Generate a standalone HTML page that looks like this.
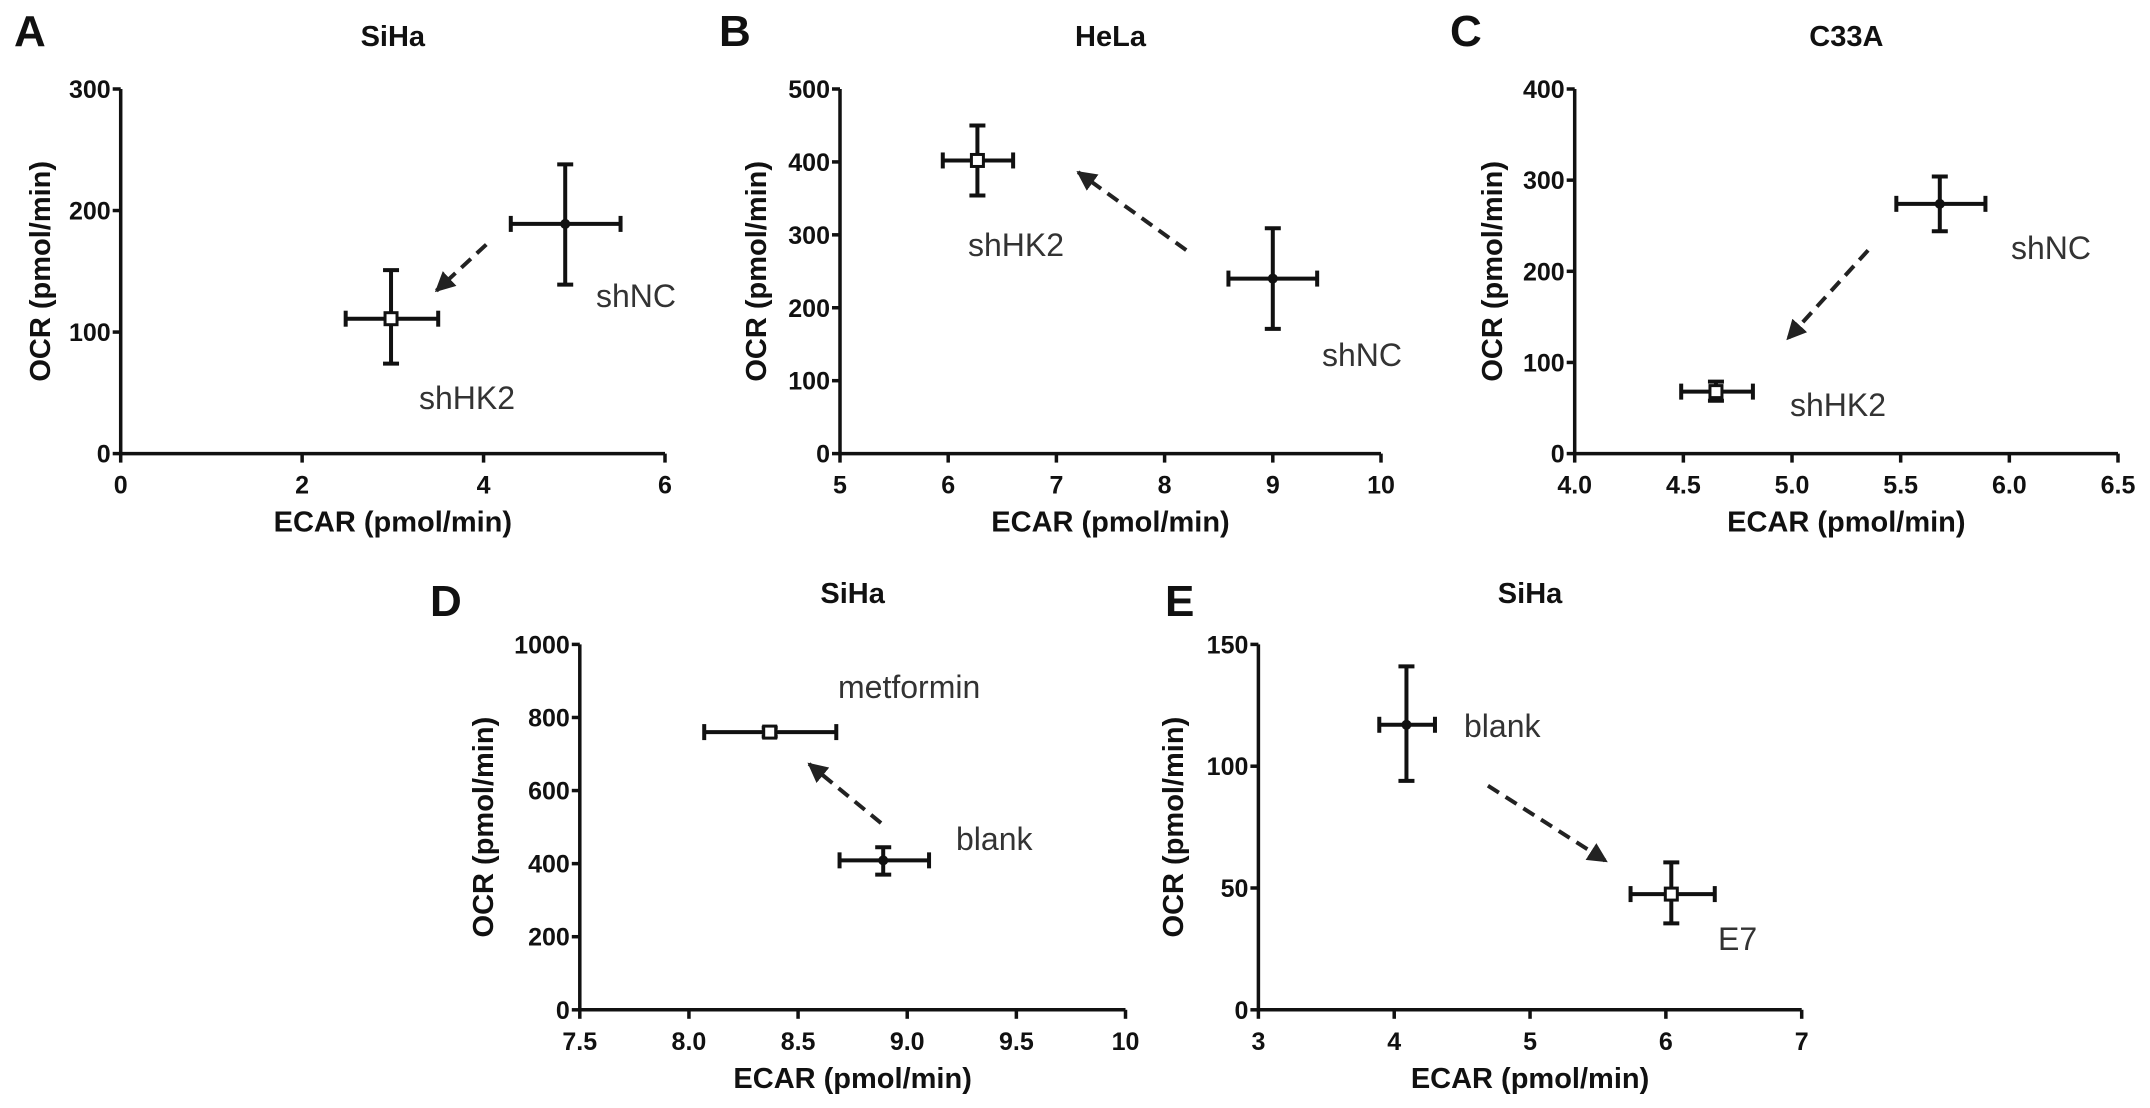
<!DOCTYPE html>
<html><head><meta charset="utf-8">
<style>
html,body{margin:0;padding:0;background:#fff;}
svg{display:block;font-family:"Liberation Sans",Arial,sans-serif;}
.tick{font-weight:bold;font-size:25px;fill:#111;}
.ttl{font-weight:bold;font-size:29px;fill:#111;}
.let{font-weight:bold;font-size:44px;fill:#111;}
.lab{font-size:32px;fill:#333;}
</style></head>
<body>
<svg id="fig" width="2150" height="1108" viewBox="0 0 2150 1108" xmlns="http://www.w3.org/2000/svg"></svg>
<script>
// ---- data ----
const panelIds = ["A","B","C","D","E"];
const panelTitles = ["SiHa","HeLa","C33A","SiHa","SiHa"];
const xTicksA = [0,2,4,6];
const yTicksA = [0,100,200,300];
const xTicksB = [5,6,7,8,9,10];
const yTicksB = [0,100,200,300,400,500];
const xTicksC = [4.0,4.5,5.0,5.5,6.0,6.5];
const yTicksC = [0,100,200,300,400];
const xTicksD = [7.5,8.0,8.5,9.0,9.5,10];
const yTicksD = [0,200,400,600,800,1000];
const xTicksE = [3,4,5,6,7];
const yTicksE = [0,50,100,150];
const xTickLabelsC = ["4.0","4.5","5.0","5.5","6.0","6.5"];
const xTickLabelsD = ["7.5","8.0","8.5","9.0","9.5","10"];
// series: [name, marker, ecar, ecarLo, ecarHi, ocr, ocrLo, ocrHi]
const seriesNames = [["shNC","shHK2"],["shNC","shHK2"],["shNC","shHK2"],["blank","metformin"],["blank","E7"]];
const markerKind = [["dot","sq"],["dot","sq"],["dot","sq"],["dot","sq"],["dot","sq"]];
const ecarMean = [[4.90,2.98],[9.0,6.27],[5.68,4.65],[8.89,8.37],[4.09,6.04]];
const ecarLo = [[4.30,2.48],[8.59,5.95],[5.48,4.49],[8.69,8.07],[3.89,5.74]];
const ecarHi = [[5.51,3.50],[9.41,6.60],[5.89,4.82],[9.10,8.675],[4.30,6.36]];
const ocrMean = [[189,111],[240,402],[274,68],[409,760],[117,47.5]];
const ocrLo = [[139,74],[171,354],[244,58],[370,748],[94,35.5]];
const ocrHi = [[238,151],[309,450],[304,79],[445,772],[141,60.5]];
// arrows in data units: [x1,y1,x2,y2]
const arrowFrom = [[4.03,172],[8.2,279],[5.35,223],[8.88,511],[4.69,92]];
const arrowTo = [[3.48,134],[7.2,386],[4.98,126],[8.55,673],[5.56,61]];

// ---- layout ----
const layout = [
 {xp0:120.7,xp1:665,yp0:453.6,yp1:89,xd:[0,6],yd:[0,300],xt:xTicksA,yt:yTicksA,letX:14,letY:46,ttlY:46,ytx:40,
  labs:[[596,307],[419,409]]},
 {xp0:840,xp1:1381,yp0:453.6,yp1:89,xd:[5,10],yd:[0,500],xt:xTicksB,yt:yTicksB,letX:719,letY:46,ttlY:46,ytx:756,
  labs:[[1322,366],[968,256]]},
 {xp0:1574.7,xp1:2118,yp0:453.6,yp1:89,xd:[4,6.5],yd:[0,400],xt:xTicksC,yt:yTicksC,xl:xTickLabelsC,letX:1450,letY:46,ttlY:46,ytx:1492,
  labs:[[2011,259],[1790,416]]},
 {xp0:579.8,xp1:1125.5,yp0:1009.8,yp1:644.4,xd:[7.5,10],yd:[0,1000],xt:xTicksD,yt:yTicksD,xl:xTickLabelsD,letX:430,letY:616,ttlY:603,ytx:483,
  labs:[[956,850],[838,698]]},
 {xp0:1258.4,xp1:1801.7,yp0:1009.8,yp1:644.4,xd:[3,7],yd:[0,150],xt:xTicksE,yt:yTicksE,letX:1165,letY:616,ttlY:603,ytx:1173,
  labs:[[1464,737],[1718,950]]}
];
const NS="http://www.w3.org/2000/svg";
const svg=document.getElementById("fig");
function mk(tag,attrs,parent){const e=document.createElementNS(NS,tag);for(const k in attrs)e.setAttribute(k,attrs[k]);(parent||svg).appendChild(e);return e;}
function txt(s,attrs,parent){const e=mk("text",attrs,parent);e.textContent=s;return e;}

const defs=mk("defs",{});
const mkr=mk("marker",{id:"ah",viewBox:"0 0 10 10",refX:"9",refY:"5",markerWidth:"5",markerHeight:"5",orient:"auto",markerUnits:"strokeWidth"},defs);
mk("path",{d:"M0,0 L10,5 L0,10 z",fill:"#222"},mkr);

layout.forEach((L,i)=>{
  const g=mk("g",{});
  
  
  const X=v=>L.xp0+(v-L.xd[0])/(L.xd[1]-L.xd[0])*(L.xp1-L.xp0);
  const Y=v=>L.yp0-(v-L.yd[0])/(L.yd[1]-L.yd[0])*(L.yp0-L.yp1);
  const let_=txt(panelIds[i],{x:L.letX,y:L.letY,class:"let"},g);
  
  
  const t=txt(panelTitles[i],{x:(L.xp0+L.xp1)/2,y:L.ttlY,class:"ttl","text-anchor":"middle"},g);
  
  
  // axes
  const ax=mk("path",{d:`M${L.xp0},${L.yp1} L${L.xp0},${L.yp0} L${L.xp1},${L.yp0}`,fill:"none",stroke:"#111","stroke-width":3.5},g);
  
  
  L.yt.forEach(v=>{
    mk("line",{x1:L.xp0-8,x2:L.xp0,y1:Y(v),y2:Y(v),stroke:"#111","stroke-width":3.5},g);
    const tl=txt(String(v),{x:L.xp0-10,y:Y(v)+9,class:"tick","text-anchor":"end"},g);
    
    
  });
  L.xt.forEach((v,k)=>{
    mk("line",{x1:X(v),x2:X(v),y1:L.yp0,y2:L.yp0+9,stroke:"#111","stroke-width":3.5},g);
    const tl=txt(L.xl?L.xl[k]:String(v),{x:X(v),y:L.yp0+40,class:"tick","text-anchor":"middle"},g);
    
    
  });
  const xt=txt("ECAR (pmol/min)",{x:(L.xp0+L.xp1)/2,y:L.yp0+78,class:"ttl","text-anchor":"middle"},g);
  
  
  const yc=(L.yp0+L.yp1)/2;
  const yt=txt("OCR (pmol/min)",{x:L.ytx,y:yc,class:"ttl","text-anchor":"middle",transform:`rotate(-90 ${L.ytx} ${yc})`,dy:"10"},g);
  
  
  // arrow
  const ar=mk("line",{x1:X(arrowFrom[i][0]),y1:Y(arrowFrom[i][1]),x2:X(arrowTo[i][0]),y2:Y(arrowTo[i][1]),stroke:"#222","stroke-width":4,"stroke-dasharray":"13 8","marker-end":"url(#ah)"},g);
  
  
  // series
  for(let s=0;s<2;s++){
    const sg=mk("g",{stroke:"#111","stroke-width":4,fill:"none"},g);
    
    
    const cx=X(ecarMean[i][s]),cy=Y(ocrMean[i][s]);
    const xl=X(ecarLo[i][s]),xh=X(ecarHi[i][s]),yl=Y(ocrLo[i][s]),yh=Y(ocrHi[i][s]);
    mk("line",{x1:xl,x2:xh,y1:cy,y2:cy},sg);
    mk("line",{x1:cx,x2:cx,y1:yl,y2:yh},sg);
    mk("line",{x1:xl,x2:xl,y1:cy-8,y2:cy+8},sg);
    mk("line",{x1:xh,x2:xh,y1:cy-8,y2:cy+8},sg);
    mk("line",{x1:cx-8,x2:cx+8,y1:yl,y2:yl},sg);
    mk("line",{x1:cx-8,x2:cx+8,y1:yh,y2:yh},sg);
    if(markerKind[i][s]==="dot") mk("circle",{cx:cx,cy:cy,r:5,fill:"#111",stroke:"none"},sg);
    else mk("rect",{x:cx-6,y:cy-6,width:12,height:12,fill:"#fff","stroke-width":3},sg);
    const lb=txt(seriesNames[i][s],{x:L.labs[s][0],y:L.labs[s][1],class:"lab"},g);
    
    
  }
});
</script>
</body></html>
